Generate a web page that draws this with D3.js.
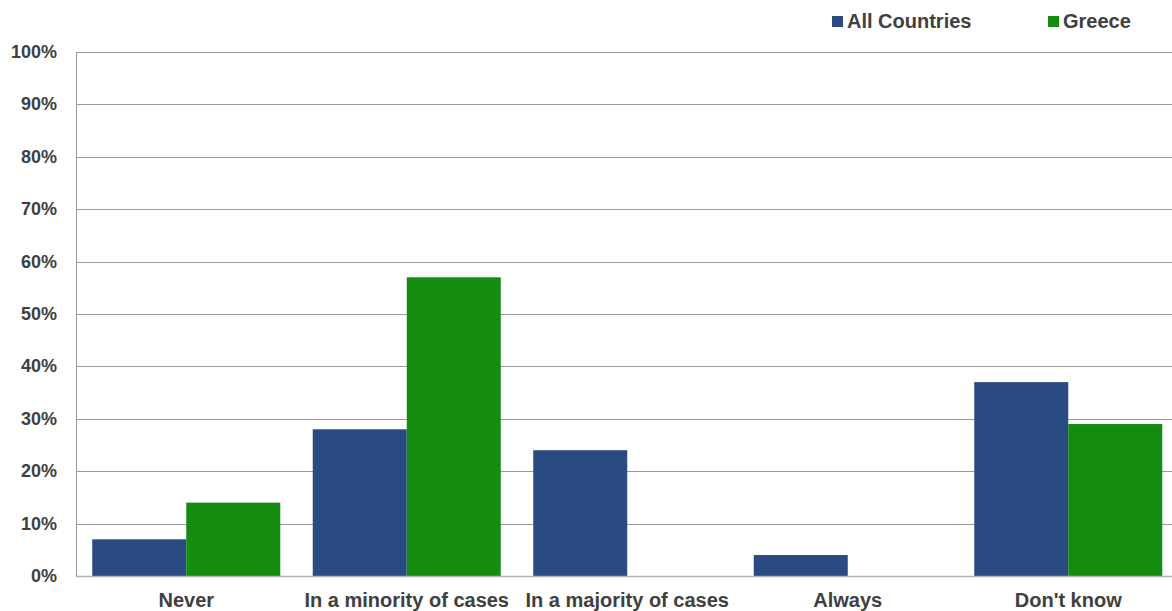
<!DOCTYPE html>
<html>
<head>
<meta charset="utf-8">
<script src="https://cdn.jsdelivr.net/npm/d3@7"></script>
<style>
  html, body { margin: 0; padding: 0; background: #fff; }
  svg { display: block; font-family: "Liberation Sans", Arial, sans-serif; }
</style>
</head>
<body>
<svg id="chart" width="1172" height="611"></svg>
<script>
// Survey answers and shares (%) per respondent group
const categories = ["Never", "In a minority of cases", "In a majority of cases", "Always", "Don't know"];
const seriesNames = ["All Countries", "Greece"];
const allCountries = [7, 28, 24, 4, 37];
const greece = [14, 57, 0, 0, 29];
const yTicks = [0, 10, 20, 30, 40, 50, 60, 70, 80, 90, 100];

const colors = { "All Countries": "#2a4a82", "Greece": "#138c10" };
const textColor = "#404040";

const svg = d3.select("#chart");
const W = 1172, H = 611;
const plotLeft = 76, plotRight = 1178.5, plotTop = 52, plotBottom = 576;

const x0 = d3.scaleBand()
  .domain(categories)
  .range([plotLeft, plotRight])
  .paddingInner(0.1474)
  .paddingOuter(0.0737);

const x1 = d3.scaleBand()
  .domain(seriesNames)
  .range([0, x0.bandwidth()]);

const y = d3.scaleLinear()
  .domain([0, 100])
  .range([plotBottom, plotTop]);

// Horizontal gridlines
svg.append("g")
  .selectAll("line")
  .data(yTicks.filter(t => t > 0))
  .join("line")
  .attr("x1", plotLeft)
  .attr("x2", W)
  .attr("y1", d => Math.round(y(d)) + 0.5)
  .attr("y2", d => Math.round(y(d)) + 0.5)
  .attr("stroke", "#9a9a9a")
  .attr("stroke-width", 1);

// Bars
const rows = categories.map((c, i) => ({ cat: c, values: [
  { name: "All Countries", v: allCountries[i] },
  { name: "Greece", v: greece[i] }
]}));

svg.append("g")
  .selectAll("g")
  .data(rows)
  .join("g")
  .attr("transform", d => `translate(${x0(d.cat)},0)`)
  .selectAll("rect")
  .data(d => d.values.filter(v => v.v > 0))
  .join("rect")
  .attr("x", d => x1(d.name))
  .attr("width", x1.bandwidth())
  .attr("y", d => y(d.v))
  .attr("height", d => y(0) - y(d.v))
  .attr("fill", d => colors[d.name]);

// Y axis line and baseline
svg.append("line")
  .attr("x1", plotLeft + 0.5).attr("x2", plotLeft + 0.5)
  .attr("y1", y(100)).attr("y2", y(0))
  .attr("stroke", "#9a9a9a");
svg.append("line")
  .attr("x1", plotLeft).attr("x2", W)
  .attr("y1", Math.round(y(0)) + 0.5).attr("y2", Math.round(y(0)) + 0.5)
  .attr("stroke", "#b5b5b5").attr("stroke-width", 1.5);

// Y tick labels
svg.append("g")
  .selectAll("text")
  .data(yTicks)
  .join("text")
  .attr("x", 57)
  .attr("y", d => y(d) + 6)
  .attr("text-anchor", "end")
  .attr("font-size", 18)
  .attr("font-weight", "bold")
  .attr("fill", textColor)
  .text(d => d + "%");

// Category labels
svg.append("g")
  .selectAll("text")
  .data(categories)
  .join("text")
  .attr("x", d => x0(d) + x0.bandwidth() / 2)
  .attr("y", 607)
  .attr("text-anchor", "middle")
  .attr("font-size", 20)
  .attr("font-weight", "bold")
  .attr("fill", textColor)
  .text(d => d);

// Legend
const legendX = [832, 1048];
const legend = svg.append("g")
  .selectAll("g")
  .data(seriesNames)
  .join("g")
  .attr("transform", (d, i) => `translate(${legendX[i]},16)`);
legend.append("rect")
  .attr("width", 11).attr("height", 11)
  .attr("fill", d => colors[d]);
legend.append("text")
  .attr("x", 15).attr("y", 11.5)
  .attr("font-size", 20)
  .attr("font-weight", "bold")
  .attr("fill", textColor)
  .text(d => d);
</script>
</body>
</html>
